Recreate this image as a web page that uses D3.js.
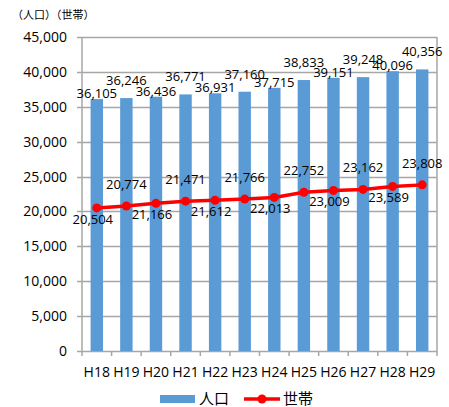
<!DOCTYPE html>
<html>
<head>
<meta charset="utf-8">
<script src="https://cdn.jsdelivr.net/npm/d3@7"></script>
<style>
  body { margin: 0; background: #fff; }
  text { font-family: "Open Sans", "Noto Sans CJK JP", sans-serif; fill: #000; }
</style>
</head>
<body>
<div id="chart"></div>
<script>
// data
var years = ['H18','H19','H20','H21','H22','H23','H24','H25','H26','H27','H28','H29'];
var population = [36105,36246,36436,36771,36931,37160,37715,38833,39151,39248,40096,40356];
var households = [20504,20774,21166,21471,21612,21766,22013,22752,23009,23162,23589,23808];
var yTicks = [0,5000,10000,15000,20000,25000,30000,35000,40000,45000];

var W = 449, H = 407;
var plotL = 82, plotR = 437, plotT = 37, plotB = 351;
var fmt = d3.format(',');

var svg = d3.select('#chart').append('svg')
  .attr('width', W).attr('height', H);

var x = d3.scaleBand().domain(years).range([plotL, plotR]);
var y = d3.scaleLinear().domain([0, 45000]).range([plotB, plotT]);

// grid
svg.append('g').selectAll('line').data(yTicks).enter().append('line')
  .attr('x1', plotL - 5).attr('x2', plotR)
  .attr('y1', function(d) { return Math.round(y(d)) + 0.5; })
  .attr('y2', function(d) { return Math.round(y(d)) + 0.5; })
  .attr('stroke', '#a6a6a6').attr('stroke-width', 1.5);

// right border
svg.append('line')
  .attr('x1', plotR).attr('x2', plotR).attr('y1', plotT).attr('y2', plotB)
  .attr('stroke', '#a6a6a6').attr('stroke-width', 1.5);

// bars
var bw = x.bandwidth() * 0.42;
svg.append('g').selectAll('rect').data(population).enter().append('rect')
  .attr('x', function(d, i) { return x(years[i]) + (x.bandwidth() - bw) / 2; })
  .attr('y', function(d) { return y(d); })
  .attr('width', bw)
  .attr('height', function(d) { return plotB - y(d); })
  .attr('fill', '#5b9bd5');

// axes
svg.append('line')
  .attr('x1', plotL).attr('x2', plotL).attr('y1', plotT).attr('y2', plotB + 0.5)
  .attr('stroke', '#a6a6a6').attr('stroke-width', 1.5);
svg.append('g').selectAll('line').data(d3.range(years.length + 1)).enter().append('line')
  .attr('x1', function(i) { return plotL + i * x.step(); })
  .attr('x2', function(i) { return plotL + i * x.step(); })
  .attr('y1', plotB).attr('y2', plotB + 5)
  .attr('stroke', '#a6a6a6').attr('stroke-width', 1.5);

svg.append('g').selectAll('text').data(yTicks).enter().append('text')
  .attr('x', plotL - 15).attr('y', function(d) { return y(d) + 5; })
  .attr('text-anchor', 'end').attr('font-size', 14)
  .text(function(d) { return fmt(d); });

svg.append('g').selectAll('text').data(years).enter().append('text')
  .attr('x', function(d) { return x(d) + x.bandwidth() / 2; })
  .attr('y', 377)
  .attr('text-anchor', 'middle').attr('font-size', 14)
  .text(function(d) { return d; });

// line
var cx = function(d, i) { return x(years[i]) + x.bandwidth() / 2; };
var line = d3.line().x(cx).y(function(d) { return y(d); });
svg.append('path').datum(households)
  .attr('d', line).attr('fill', 'none')
  .attr('stroke', '#ff0000').attr('stroke-width', 3.5);
svg.append('g').selectAll('circle').data(households).enter().append('circle')
  .attr('cx', cx).attr('cy', function(d) { return y(d); })
  .attr('r', 4.5).attr('fill', '#ff0000');

// bar labels (alternating height)
svg.append('g').selectAll('text').data(population).enter().append('text')
  .attr('x', cx)
  .attr('y', function(d, i) { return y(d) - (i % 2 ? 13 : 1); })
  .attr('text-anchor', 'middle').attr('font-size', 13)
  .text(function(d) { return fmt(d); });

// line labels (alternating below / above)
svg.append('g').selectAll('text').data(households).enter().append('text')
  .attr('x', function(d, i) { return cx(d, i) - (i % 2 ? 0 : 4); })
  .attr('y', function(d, i) { return i % 2 ? y(d) - 17 : y(d) + 16; })
  .attr('text-anchor', 'middle').attr('font-size', 13)
  .text(function(d) { return fmt(d); });

// unit title
svg.append('text')
  .attr('x', 12).attr('y', 19).attr('font-size', 11)
  .style('font-family', '"Noto Sans CJK JP", sans-serif')
  .text('（人口）（世帯）');

// legend
var lg = svg.append('g');
lg.append('rect').attr('x', 160).attr('y', 395).attr('width', 35).attr('height', 8).attr('fill', '#5b9bd5');
lg.append('text').attr('x', 199).attr('y', 404).attr('font-size', 15)
  .style('font-family', '"Noto Sans CJK JP", sans-serif').text('人口');
lg.append('line').attr('x1', 244).attr('x2', 280).attr('y1', 399).attr('y2', 399)
  .attr('stroke', '#ff0000').attr('stroke-width', 3.5);
lg.append('circle').attr('cx', 262).attr('cy', 399).attr('r', 4.5).attr('fill', '#ff0000');
lg.append('text').attr('x', 283).attr('y', 404).attr('font-size', 15)
  .style('font-family', '"Noto Sans CJK JP", sans-serif').text('世帯');
</script>
</body>
</html>
